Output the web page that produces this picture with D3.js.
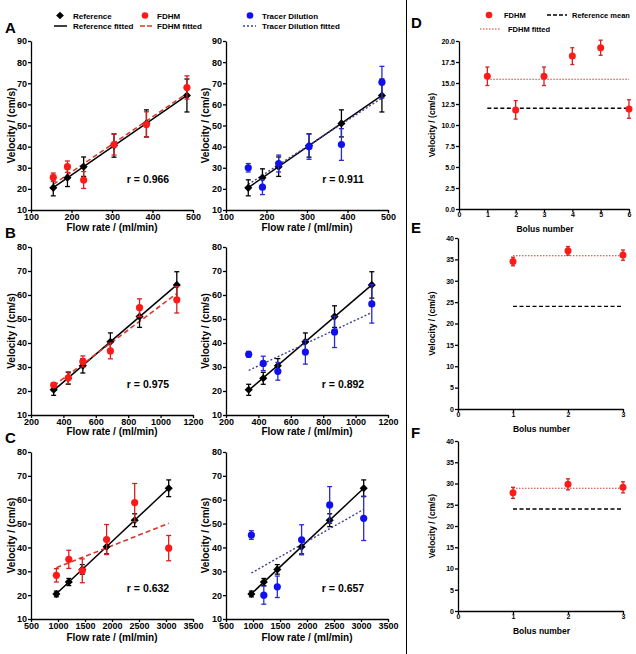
<!DOCTYPE html>
<html><head><meta charset="utf-8">
<script src="https://cdn.jsdelivr.net/npm/d3@7"></script>
<style>
body{margin:0;background:#fff;}
svg{font-family:"Liberation Sans",Arial,sans-serif;font-weight:bold;}
</style></head>
<body>
<svg id="c" width="636" height="654"></svg>
<script>
// ---------- DATA ----------
const flowA = [155,190,230,305,385,485];
const flowB = [340,430,520,690,870,1100];
const flowC = [970,1200,1450,1900,2420,3050];
const refA = [20.5,25.3,30.5,40.5,51,64.2];
const refErrA = [3.8,4.2,4.6,5.5,6.4,7.8];
const refB = [20.5,25.3,30.5,40.5,51,64.2];
const refErrB = [2.3,2.5,3,3.7,4.5,5.5];
const refC = [20.5,25.5,30.8,40.3,51.4,64.8];
const refErrC = [1.2,1.5,2,3,2.7,3.5];
const fdhmA = [25.5,30.5,24.2,41,50.5,68];
const fdhmErrA = [2,2.7,4,5,6,5.5];
const tracerA = [30,20.8,32,40,41,70.5];
const tracerErrA = [2,3.5,4,6,7.5,7.5];
const fdhmB = [22.5,25.5,32.3,36.7,54.7,58];
const fdhmErrB = [1,2.5,2.3,3.3,3.7,5.5];
const tracerB = [35.3,31.5,28.2,36.2,44.6,56.3];
const tracerErrB = [1.2,3,3.7,5,6.5,8];
const fdhmC = [28.3,35,30.2,43.3,58.8,39.7];
const fdhmErrC = [2.8,3.8,5,6.3,8,5.3];
const tracerC = [45.2,20,23.5,43.2,57.8,52.2];
const tracerErrC = [1.8,3.8,4.5,6.3,7.7,9.3];
const rLabels = ["r = 0.966","r = 0.911","r = 0.975","r = 0.892","r = 0.632","r = 0.657"];
const ticksA = [100,200,300,400,500];
const ticksB = [200,400,600,800,1000,1200];
const ticksC = [500,1000,1500,2000,2500,3000,3500];
const yTicksA = [10,20,30,40,50,60,70,80,90];
const yTicksBC = [10,20,30,40,50,60,70,80];

const bolusD = [1,2,3,4,5,6];
const fdhmD = [15.8,11.8,15.8,18.2,19.2,11.9];
const fdhmErrD = [1.1,1.1,1.1,1.0,0.9,1.1];
const refMeanD = 12;
const bolusEF = [1,2,3];
const fdhmE = [34.5,37,36];
const fdhmErrE = [1,1,1.2];
const refMeanE = 24;
const fdhmF = [27.8,29.8,29.1];
const fdhmErrF = [1.3,1.3,1.3];
const refMeanF = 24;
const yTicksD = [0,2.5,5,7.5,10,12.5,15,17.5,20];
const yTicksEF = [0,5,10,15,20,25,30,35,40];

// ---------- COLORS ----------
const RED = "#ff1a1a", RED_ERR = "#d42020", RED_FIT = "#d33a2c";
const BLUE = "#1010ee", BLUE_ERR = "#2a2ad0", BLUE_FIT = "#40409a";

const svg = d3.select("#c");

function regression(xs, ys){
  const n = xs.length, mx = d3.mean(xs), my = d3.mean(ys);
  let sxy=0, sxx=0;
  for(let i=0;i<n;i++){sxy+=(xs[i]-mx)*(ys[i]-my); sxx+=(xs[i]-mx)**2;}
  const b = sxy/sxx; return x => my + b*(x-mx);
}

function axes(g, x, y, xt, yt, fs, yfmt){
  const ax = g.append("g").attr("transform",`translate(0,${y.range()[0]})`)
    .call(d3.axisBottom(x).tickValues(xt).tickSize(3).tickSizeOuter(0).tickFormat(d3.format("d")));
  const ay = g.append("g").attr("transform",`translate(${x.range()[0]},0)`)
    .call(d3.axisLeft(y).tickValues(yt).tickSize(3).tickSizeOuter(0).tickFormat(yfmt||d3.format("d")));
  [ax,ay].forEach(a=>{
    a.selectAll("path,line").attr("stroke","#000").attr("stroke-width",1.3);
    a.selectAll("text").attr("font-size",fs).attr("font-weight","bold").attr("fill","#000")
     .attr("font-family","Liberation Sans, Arial, sans-serif");
  });
  ax.selectAll("text").attr("y",3).attr("dy","0.75em");
  ay.selectAll("text").attr("x",-4);
}

function errBars(g, x, y, xs, ys, es, color, cap){
  xs.forEach((xv,i)=>{
    const cx=x(xv);
    g.append("line").attr("x1",cx).attr("x2",cx).attr("y1",y(ys[i]-es[i])).attr("y2",y(ys[i]+es[i]))
      .attr("stroke",color).attr("stroke-width",1.3);
    [ys[i]-es[i], ys[i]+es[i]].forEach(v=>g.append("line").attr("x1",cx-cap).attr("x2",cx+cap)
      .attr("y1",y(v)).attr("y2",y(v)).attr("stroke",color).attr("stroke-width",1.3));
  });
}

function diamonds(g,x,y,xs,ys){
  g.selectAll(null).data(xs).enter().append("path")
   .attr("d",d3.symbol(d3.symbolDiamond2,42)())
   .attr("transform",(d,i)=>`translate(${x(d)},${y(ys[i])})`)
   .attr("fill","#000");
}
function circles(g,x,y,xs,ys,color,r){
  g.selectAll(null).data(xs).enter().append("circle")
   .attr("cx",d=>x(d)).attr("cy",(d,i)=>y(ys[i])).attr("r",r).attr("fill",color);
}

function fitLine(g,x,y,xs,ys,color,dash,w){
  const f = regression(xs,ys), x0=d3.min(xs), x1=d3.max(xs);
  g.append("line").attr("x1",x(x0)).attr("x2",x(x1)).attr("y1",y(f(x0))).attr("y2",y(f(x1)))
   .attr("stroke",color).attr("stroke-width",w||1.4).attr("stroke-dasharray",dash||null);
}

function text(x,y,s,fs,anchor,rot){
  const t = svg.append("text").attr("x",x).attr("y",y).text(s).attr("font-size",fs)
    .attr("text-anchor",anchor||"start").attr("fill","#000");
  if(rot) t.attr("transform",`rotate(${rot},${x},${y})`);
  return t;
}

// left column panels
const rows = [
  {flow:flowA, ref:refA, refE:refErrA, f:fdhmA, fE:fdhmErrA, t:tracerA, tE:tracerErrA,
   xd:[100,500], xt:ticksA, yd:[10,90], yt:yTicksA, yr:[210,41], letter:"A", ly:33, title:231},
  {flow:flowB, ref:refB, refE:refErrB, f:fdhmB, fE:fdhmErrB, t:tracerB, tE:tracerErrB,
   xd:[200,1200], xt:ticksB, yd:[10,80], yt:yTicksBC, yr:[415,247], letter:"B", ly:238, title:435},
  {flow:flowC, ref:refC, refE:refErrC, f:fdhmC, fE:fdhmErrC, t:tracerC, tE:tracerErrC,
   xd:[500,3500], xt:ticksC, yd:[10,80], yt:yTicksBC, yr:[619,452], letter:"C", ly:443, title:641}
];
const cols = [{x0:31,x1:193, ylab:11},{x0:226,x1:388, ylab:205}];

rows.forEach((r,ri)=>{
  text(5,r.ly,r.letter,15,"start");
  cols.forEach((c,ci)=>{
    const g = svg.append("g");
    const x = d3.scaleLinear().domain(r.xd).range([c.x0,c.x1]);
    const y = d3.scaleLinear().domain(r.yd).range(r.yr);
    axes(g,x,y,r.xt,r.yt,9);
    const other = ci===0 ? r.f : r.t, otherE = ci===0 ? r.fE : r.tE;
    const col = ci===0 ? RED : BLUE, colE = ci===0 ? RED_ERR : BLUE_ERR;
    fitLine(g,x,y,r.flow,r.ref,"#000",null,1.5);
    if(ci===0) fitLine(g,x,y,r.flow,other,RED_FIT,"5,3",1.6);
    else fitLine(g,x,y,r.flow,other,BLUE_FIT,"2,2",1.4);
    errBars(g,x,y,r.flow,r.ref,r.refE,"#000",2.5);
    diamonds(g,x,y,r.flow,r.ref);
    errBars(g,x,y,r.flow,other,otherE,colE,2.5);
    circles(g,x,y,r.flow,other,col,3.6);
    text((c.x0+c.x1)/2, r.title, "Flow rate / (ml/min)", 10, "middle");
    text(c.ylab+4, (r.yr[0]+r.yr[1])/2, "Velocity / (cm/s)", 10, "middle", -90);
    const lx = ci===0 ? 148 : 343;
    text(lx, r.yr[0]-27, rLabels[ri*2+ci], 10.5, "middle");
  });
});

// left legend
(function(){
  const g = svg.append("g");
  g.append("path").attr("d",d3.symbol(d3.symbolDiamond2,38)()).attr("transform","translate(60,15.5)").attr("fill","#000");
  g.append("line").attr("x1",54).attr("x2",67).attr("y1",26).attr("y2",26).attr("stroke","#000").attr("stroke-width",1.5);
  g.append("circle").attr("cx",145).attr("cy",15.5).attr("r",3.3).attr("fill",RED);
  g.append("line").attr("x1",140).attr("x2",152).attr("y1",26).attr("y2",26).attr("stroke",RED_FIT).attr("stroke-width",1.5).attr("stroke-dasharray","5,2");
  g.append("circle").attr("cx",250).attr("cy",15.5).attr("r",3.3).attr("fill",BLUE);
  g.append("line").attr("x1",243).attr("x2",256).attr("y1",26).attr("y2",26).attr("stroke",BLUE_FIT).attr("stroke-width",1.3).attr("stroke-dasharray","2,2");
  text(73,18.5,"Reference",8); text(73,29,"Reference fitted",8);
  text(157,18.5,"FDHM",8); text(157,29,"FDHM fitted",8);
  text(262,18.5,"Tracer Dilution",8); text(262,29,"Tracer Dilution fitted",8);
})();

// separator
svg.append("line").attr("x1",406.5).attr("x2",406.5).attr("y1",0).attr("y2",654).attr("stroke","#000").attr("stroke-width",1);

// right column panels
const rpanels = [
  {letter:"D", ly:28, xs:bolusD, ys:fdhmD, es:fdhmErrD, refMean:refMeanD, xd:[0,6], xt:[0,1,2,3,4,5,6],
   yd:[0,20], yt:yTicksD, yr:[209,41], xr:[459,629], title:232, yfmt:d3.format(".1f")},
  {letter:"E", ly:233, xs:bolusEF, ys:fdhmE, es:fdhmErrE, refMean:refMeanE, xd:[0,3], xt:[0,1,2,3],
   yd:[0,40], yt:yTicksEF, yr:[409,238], xr:[458,623], title:432, yfmt:d3.format("d")},
  {letter:"F", ly:438, xs:bolusEF, ys:fdhmF, es:fdhmErrF, refMean:refMeanF, xd:[0,3], xt:[0,1,2,3],
   yd:[0,40], yt:yTicksEF, yr:[611,441], xr:[458,623], title:634, yfmt:d3.format("d")}
];
rpanels.forEach(p=>{
  const g = svg.append("g");
  const x = d3.scaleLinear().domain(p.xd).range(p.xr);
  const y = d3.scaleLinear().domain(p.yd).range(p.yr);
  axes(g,x,y,p.xt,p.yt,7,p.yfmt);
  const x0=d3.min(p.xs), x1=d3.max(p.xs), m=d3.mean(p.ys);
  g.append("line").attr("x1",x(x0)).attr("x2",x(x1)).attr("y1",y(p.refMean)).attr("y2",y(p.refMean))
    .attr("stroke","#000").attr("stroke-width",1.4).attr("stroke-dasharray","4,2.5");
  g.append("line").attr("x1",x(x0)).attr("x2",x(x1)).attr("y1",y(m)).attr("y2",y(m))
    .attr("stroke",RED_FIT).attr("stroke-width",1.1).attr("stroke-dasharray","1.5,1.5");
  errBars(g,x,y,p.xs,p.ys,p.es,RED_ERR,2);
  circles(g,x,y,p.xs,p.ys,RED,3.5);
  text(411,p.ly,p.letter,15,"start");
  text((p.xr[0]+p.xr[1])/2+1, p.title, "Bolus number", 8.5, "middle");
  text(435, (p.yr[0]+p.yr[1])/2, "Velocity / (cm/s)", 8.5, "middle", -90);
});
// right legend
(function(){
  const g = svg.append("g");
  g.append("circle").attr("cx",489).attr("cy",15).attr("r",3.3).attr("fill",RED);
  g.append("line").attr("x1",547).attr("x2",567).attr("y1",15).attr("y2",15).attr("stroke","#000").attr("stroke-width",1.3).attr("stroke-dasharray","4,2");
  g.append("line").attr("x1",480).attr("x2",501).attr("y1",29).attr("y2",29).attr("stroke",RED_FIT).attr("stroke-width",1).attr("stroke-dasharray","1.5,1.5");
  text(504,17.8,"FDHM",7.5); text(572,17.8,"Reference mean",7.5); text(508,31.8,"FDHM fitted",7.5);
})();
</script>
</body></html>
